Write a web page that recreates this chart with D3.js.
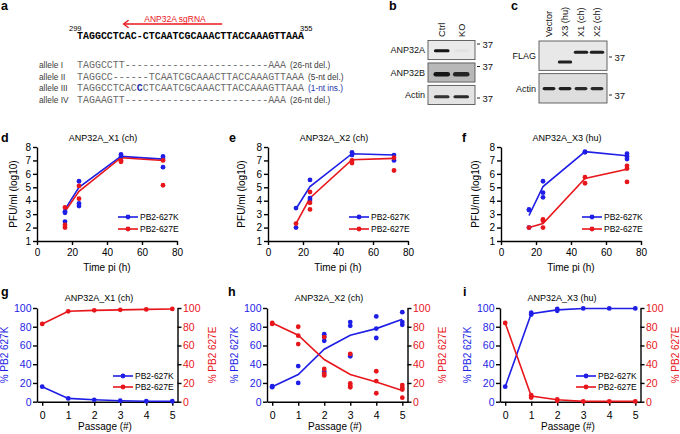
<!DOCTYPE html>
<html><head><meta charset="utf-8">
<script src="https://cdn.jsdelivr.net/npm/d3@7/dist/d3.min.js"></script>
<style>body{margin:0;background:#fff;}</style>
</head><body>
<svg id="c" width="680" height="434" xmlns="http://www.w3.org/2000/svg"></svg>
<script>
// ================= DATA =================
// panel a
const sgLabel = "ANP32A sgRNA";
const seqStartPos = "299", seqEndPos = "355";
const refSeq = "TAGGCCTCAC-CTCAATCGCAAACTTACCAAAGTTAAA";
const sgCols = [24.3, 7.8]; // sgRNA arrow spans these sequence columns (tail, head)
const alleleNames = ["allele I", "allele II", "allele III", "allele IV"];
const alleleSeqs = [
  "TAGGCCTT------------------------AAA",
  "TAGGCC------TCAATCGCAAACTTACCAAAGTTAAA",
  "TAGGCCTCACCCTCAATCGCAAACTTACCAAAGTTAAA",
  "TAGAAGTT------------------------AAA"
];
const insertCol = 10; // inserted base in allele III
const alleleNotes = ["(26-nt del.)", "(5-nt del.)", "(1-nt ins.)", "(26-nt del.)"];

// panel b (western blot)
const bLanes = ["Ctrl", "KO"];
const bRows = ["ANP32A", "ANP32B", "Actin"];
const bIntensity = [[1.0, 0.03], [1.0, 0.9], [0.85, 0.9]];
const bMarker = "37";

// panel c (western blot)
const cLanes = ["Vector", "X3 (hu)", "X1 (ch)", "X2 (ch)"];
const cRows = ["FLAG", "Actin"];
const cFlagKDa = [null, 34, 40, 40];
const cIntensity = [[0, 0.95, 0.95, 0.95], [0.95, 0.95, 0.9, 0.9]];
const cMarker = "37";

// panels d-f (growth curves)
const timePoints = [16, 24, 48, 72];
const timeTicks = [0, 20, 40, 60, 80];
const pfuTicks = [1, 2, 3, 4, 5, 6, 7, 8];
const dTitle = "ANP32A_X1 (ch)", eTitle = "ANP32A_X2 (ch)", fTitle = "ANP32A_X3 (hu)";
const dK = [[3.2, 3.1, 2.45], [5.45, 3.8, 3.6], [7.45, 7.3], [7.3, 7.1, 6.5]];
const dE = [[3.5, 2.2, 2.0], [5.1, 4.15], [7.0, 6.9], [7.0, 5.15]];
const dKMean = [3.35, 5.0, 7.3, 7.1];
const dEMean = [3.2, 4.7, 7.2, 7.0];
const eK = [[3.45, 2.0], [5.55, 4.2, 4.05], [7.6, 7.4], [7.4, 7.0]];
const eE = [[2.3], [4.65, 3.85, 3.35], [7.0, 6.8], [7.2, 6.25]];
const eKMean = [3.4, 5.05, 7.5, 7.4];
const eEMean = [2.3, 4.2, 7.05, 7.15];
const fK = [[3.35, 3.3, 2.0], [5.45, 4.6, 4.25], [7.65, 7.6], [7.5, 7.3, 7.1]];
const fE = [[2.0], [2.6, 2.5, 2.0], [5.75, 5.3], [6.6, 6.4, 5.4]];
const fKMean = [2.9, 5.05, 7.65, 7.35];
const fEMean = [2.0, 2.3, 5.65, 6.35];

// panels g-i (passages)
const passages = [0, 1, 2, 3, 4, 5];
const pctTicks = [0, 20, 40, 60, 80, 100];
const gK = [[16], [3.5], [2], [1], [0.5], [0.5]];
const gE = [[83], [96.5], [97.5], [98], [98.5], [99]];
const gKLine = [16, 3.5, 2, 1, 0.5, 0.5];
const gELine = [83, 96.5, 97.5, 98, 98.5, 99];
const hK = [[16.5, 15.5], [38, 20], [72, 69, 65, 32], [85, 81, 50, 48.5], [91, 78, 68], [95.5, 85, 82]];
const hE = [[84, 83], [80, 70.5, 61.5], [69, 35, 30, 28], [51, 19.5, 17, 15.3], [32.5, 22, 9], [17.7, 15, 13, 4.3]];
const hKLine = [16, 29, 56, 71, 78, 88];
const hELine = [84, 71, 45, 29, 21, 12];
const iK = [[16], [95, 93], [99, 97], [99.5], [99.5], [99.5]];
const iE = [[84], [7, 4.5], [2.5, 1], [0.3], [0.3], [0.3]];
const iKLine = [16, 94, 98, 99.5, 99.5, 99.5];
const iELine = [84, 6, 2, 0.3, 0.3, 0.3];
const seriesNames = ["PB2-627K", "PB2-627E"];

// ================= STYLE =================
const BLUE = "#1e1ee6", RED = "#e8161b";
const SANS = "'Liberation Sans', Arial, Helvetica, sans-serif";
const MONO = "'Liberation Mono', 'DejaVu Sans Mono', monospace";
const intFmt = d3.format("d");

const svg = d3.select("#c");
svg.append("rect").attr("width", 680).attr("height", 434).attr("fill", "#fff");
const defs = svg.append("defs");
defs.append("filter").attr("id", "blur").attr("x", "-20%").attr("y", "-50%").attr("width", "140%").attr("height", "200%")
  .append("feGaussianBlur").attr("stdDeviation", 0.55);

function txt(g, s, x, y, size, opts = {}) {
  const t = g.append("text").attr("x", x).attr("y", y).attr("font-size", size)
    .attr("font-family", opts.family || SANS).attr("fill", opts.fill || "#000").text(s);
  if (opts.anchor) t.attr("text-anchor", opts.anchor);
  if (opts.weight) t.attr("font-weight", opts.weight);
  return t;
}
function letter(s, x, y) { txt(svg, s, x, y, 12.5, { weight: "bold" }); }

// ================= PANEL A =================
letter("a", 1, 10);
const ga = svg.append("g");
const col = d3.scaleLinear().domain([0, refSeq.length]).range([77, 304]);
txt(ga, sgLabel, 175, 21.5, 8.5, { fill: RED, anchor: "middle" });
ga.append("line").attr("x1", col(sgCols[0])).attr("x2", col(sgCols[1]) + 0.5).attr("y1", 24).attr("y2", 24)
  .attr("stroke", RED).attr("stroke-width", 1.3);
ga.append("path").attr("d", `M${col(sgCols[1]) + 5},20.3 L${col(sgCols[1])},24 L${col(sgCols[1]) + 5},27.7`)
  .attr("fill", "none").attr("stroke", RED).attr("stroke-width", 1.3);
txt(ga, seqStartPos, 69, 30.5, 7.5);
txt(ga, seqEndPos, 300, 30.5, 7.5);
txt(ga, refSeq, col(0), 38.5, 10, { family: MONO, weight: "bold" })
  .attr("textLength", col(refSeq.length) - col(0)).attr("lengthAdjust", "spacingAndGlyphs");
const rowY = d3.scalePoint().domain(alleleNames).range([68, 103]);
alleleNames.forEach((n, i) => {
  const y = rowY(n);
  txt(ga, n, 39, y, 8.3, { fill: "#3a3a3a" });
  const s = alleleSeqs[i];
  const t = ga.append("text").attr("x", col(0)).attr("y", y).attr("font-size", 10).attr("font-family", MONO)
    .attr("fill", "#6a6a6a").attr("textLength", col(s.length) - col(0)).attr("lengthAdjust", "spacingAndGlyphs");
  if (i === 2) {
    t.append("tspan").text(s.slice(0, insertCol));
    t.append("tspan").attr("fill", "#1a2aa8").attr("font-weight", "bold").text(s[insertCol]);
    t.append("tspan").text(s.slice(insertCol + 1));
  } else t.text(s);
  txt(ga, alleleNotes[i], col(s.length) + 4, y, 8.3, { fill: i === 2 ? "#2233aa" : "#3a3a3a" });
});

// ================= BLOT helper =================
function blot(cfg) {
  const g = svg.append("g");
  const rows = d3.scaleBand().domain(cfg.rows).range(cfg.yRange).paddingInner(cfg.rowPad);
  const lanes = d3.scaleBand().domain(cfg.lanes).range(cfg.laneRange);
  cfg.lanes.forEach(l => {
    txt(g, l, 0, 0, 9.2, { fill: "#111" })
      .attr("transform", `translate(${lanes(l) + lanes.bandwidth() / 2 + 3.3},37) rotate(-90)`);
  });
  cfg.rows.forEach((r, ri) => {
    const y0 = rows(r), h = rows.bandwidth();
    g.append("rect").attr("x", cfg.boxX[0]).attr("y", y0).attr("width", cfg.boxX[1] - cfg.boxX[0]).attr("height", h)
      .attr("fill", cfg.shade[ri]).attr("stroke", "#555").attr("stroke-width", 0.9);
    txt(g, r, cfg.boxX[0] - 3, y0 + h / 2 + 3.2, 9, { anchor: "end", fill: "#111" });
    cfg.lanes.forEach((l, li) => {
      const v = cfg.intensity[ri][li];
      if (!v) return;
      const by = cfg.bandY(ri, li, y0, h);
      const bw = lanes.bandwidth() * cfg.bandW[ri];
      const th = cfg.thick[ri];
      g.append("rect").attr("x", lanes(l) + (lanes.bandwidth() - bw) / 2).attr("y", by - th / 2)
        .attr("width", bw).attr("height", th).attr("rx", th / 2)
        .attr("fill", "#141414").attr("opacity", v).attr("filter", "url(#blur)");
    });
  });
  cfg.markers.forEach(my => {
    g.append("line").attr("x1", cfg.boxX[1] + 2).attr("x2", cfg.boxX[1] + 5).attr("y1", my).attr("y2", my)
      .attr("stroke", "#222").attr("stroke-width", 1);
    txt(g, cfg.markerLabel, cfg.boxX[1] + 7.5, my + 3.5, 9.5, { fill: "#111" });
  });
}

// ================= PANEL B =================
letter("b", 389, 10);
blot({
  rows: bRows, lanes: bLanes, yRange: [40.5, 104.5], rowPad: 0.15, laneRange: [432, 471], boxX: [428, 475],
  shade: ["#eaeaea", "#b8b8b8", "#e3e3e3"], intensity: bIntensity,
  bandW: [0.8, 0.85, 0.8], thick: [3, 4.6, 3.2],
  bandY: (ri, li, y0, h) => y0 + h / 2 + (ri === 0 ? 0.6 : 1.8),
  markers: [44, 66.5, 98], markerLabel: bMarker
});

// ================= PANEL C =================
letter("c", 511, 10);
const kdaY = d3.scaleLog().domain([30, 45]).range([69.6, 45.3]);
blot({
  rows: cRows, lanes: cLanes, yRange: [41, 103], rowPad: 0.1, laneRange: [541, 605], boxX: [539, 607],
  shade: ["#e8e8e8", "#dedede"], intensity: cIntensity,
  bandW: [0.9, 0.8], thick: [3, 3.4],
  bandY: (ri, li, y0, h) => ri === 0 ? kdaY(cFlagKDa[li]) : y0 + h / 2 + 0.3,
  markers: [57, 95], markerLabel: cMarker
});

// ================= AXIS styling =================
function styleAxis(a, color, size) {
  a.attr("font-family", SANS);
  a.selectAll("path,line").attr("stroke", "#000").attr("stroke-width", 1.4);
  a.selectAll("text").attr("font-size", size).attr("fill", color);
}
function legend(g, x, y, color, label) {
  g.append("line").attr("x1", x).attr("x2", x + 20).attr("y1", y).attr("y2", y).attr("stroke", color).attr("stroke-width", 1.6);
  g.append("circle").attr("cx", x + 10).attr("cy", y).attr("r", 2.4).attr("fill", color);
  txt(g, label, x + 22, y + 3, 8.5);
}
function dots(g, xs, ys, data, xvals, color) {
  const flat = [];
  data.forEach((arr, i) => arr.forEach(v => flat.push([xvals[i], v])));
  g.selectAll(null).data(flat).enter().append("circle")
    .attr("cx", d => xs(d[0])).attr("cy", d => ys(d[1])).attr("r", 2.4).attr("fill", color);
}
function line(g, xs, ys, xvals, vals, color) {
  g.append("path").datum(vals.map((v, i) => [xvals[i], v]))
    .attr("d", d3.line().x(d => xs(d[0])).y(d => ys(d[1])))
    .attr("fill", "none").attr("stroke", color).attr("stroke-width", 1.6);
}

// ================= PANELS D-F =================
function timePanel(cfg) {
  const g = svg.append("g");
  const x = d3.scaleLinear().domain([0, 80]).range([cfg.x0, cfg.x0 + 140]);
  const y = d3.scaleLinear().domain([1, 8]).range([241, 147]);
  const ax = g.append("g").attr("transform", "translate(0,241)")
    .call(d3.axisBottom(x).tickValues(timeTicks).tickFormat(intFmt).tickSize(4).tickSizeOuter(0).tickPadding(4));
  const ay = g.append("g").attr("transform", `translate(${cfg.x0},0)`)
    .call(d3.axisLeft(y).tickValues(pfuTicks).tickFormat(intFmt).tickSize(4).tickSizeOuter(0).tickPadding(2));
  styleAxis(ax, "#000", 10); styleAxis(ay, "#000", 10);
  txt(g, cfg.title, cfg.x0 + 66, 140.5, 9, { anchor: "middle" });
  txt(g, "Time pi (h)", cfg.x0 + 70, 270.5, 10, { anchor: "middle" });
  txt(g, "PFU/ml (log10)", 0, 0, 10, { anchor: "middle" })
    .attr("transform", `translate(${cfg.ylx},194) rotate(-90)`);
  line(g, x, y, timePoints, cfg.KMean, BLUE);
  line(g, x, y, timePoints, cfg.EMean, RED);
  dots(g, x, y, cfg.K, timePoints, BLUE);
  dots(g, x, y, cfg.E, timePoints, RED);
  legend(g, cfg.x0 + 81, 217, BLUE, seriesNames[0]);
  legend(g, cfg.x0 + 81, 229, RED, seriesNames[1]);
}
letter("d", 1, 142); letter("e", 229, 142); letter("f", 462, 142);
timePanel({ x0: 37, ylx: 16.5, title: dTitle, K: dK, E: dE, KMean: dKMean, EMean: dEMean });
timePanel({ x0: 268, ylx: 245, title: eTitle, K: eK, E: eE, KMean: eKMean, EMean: eEMean });
timePanel({ x0: 501, ylx: 478.5, title: fTitle, K: fK, E: fE, KMean: fKMean, EMean: fEMean });

// ================= PANELS G-I =================
function passagePanel(cfg) {
  const g = svg.append("g");
  const x1 = cfg.x0 + 140.5;
  const x = d3.scaleLinear().domain([-0.2, 5.2]).range([cfg.x0, x1]);
  const y = d3.scaleLinear().domain([0, 100]).range([401.7, 308]);
  const ax = g.append("g").attr("transform", "translate(0,401.7)")
    .call(d3.axisBottom(x).tickValues(passages).tickFormat(intFmt).tickSize(4).tickSizeOuter(0).tickPadding(6));
  const ayl = g.append("g").attr("transform", `translate(${cfg.x0},0)`)
    .call(d3.axisLeft(y).tickValues(pctTicks).tickFormat(intFmt).tickSize(4).tickSizeOuter(0).tickPadding(1.5));
  const ayr = g.append("g").attr("transform", `translate(${x1},0)`)
    .call(d3.axisRight(y).tickValues(pctTicks).tickFormat(intFmt).tickSize(4).tickSizeOuter(0).tickPadding(1.5));
  styleAxis(ax, "#000", 10.5); styleAxis(ayl, BLUE, 10.5); styleAxis(ayr, RED, 10.5);
  txt(g, cfg.title, cfg.x0 + 62, 301, 9, { anchor: "middle" });
  txt(g, "Passage (#)", cfg.x0 + 68, 430, 10, { anchor: "middle" });
  txt(g, "% PB2 627K", 0, 0, 10, { anchor: "middle", fill: BLUE })
    .attr("transform", `translate(${cfg.x0 - 29},355) rotate(-90)`);
  txt(g, "% PB2 627E", 0, 0, 10, { anchor: "middle", fill: RED })
    .attr("transform", `translate(${x1 + 38},355) rotate(-90)`);
  line(g, x, y, passages, cfg.KLine, BLUE);
  dots(g, x, y, cfg.K, passages, BLUE);
  line(g, x, y, passages, cfg.ELine, RED);
  dots(g, x, y, cfg.E, passages, RED);
  if (cfg.legend) {
    legend(g, cfg.x0 + 76, 376, BLUE, seriesNames[0]);
    legend(g, cfg.x0 + 76, 387, RED, seriesNames[1]);
  }
}
letter("g", 1, 296); letter("h", 228, 296); letter("i", 463, 296);
passagePanel({ x0: 37, title: dTitle, K: gK, E: gE, KLine: gKLine, ELine: gELine, legend: true });
passagePanel({ x0: 267, title: eTitle, K: hK, E: hE, KLine: hKLine, ELine: hELine, legend: false });
passagePanel({ x0: 500, title: fTitle, K: iK, E: iE, KLine: iKLine, ELine: iELine, legend: true });
</script>
</body></html>
